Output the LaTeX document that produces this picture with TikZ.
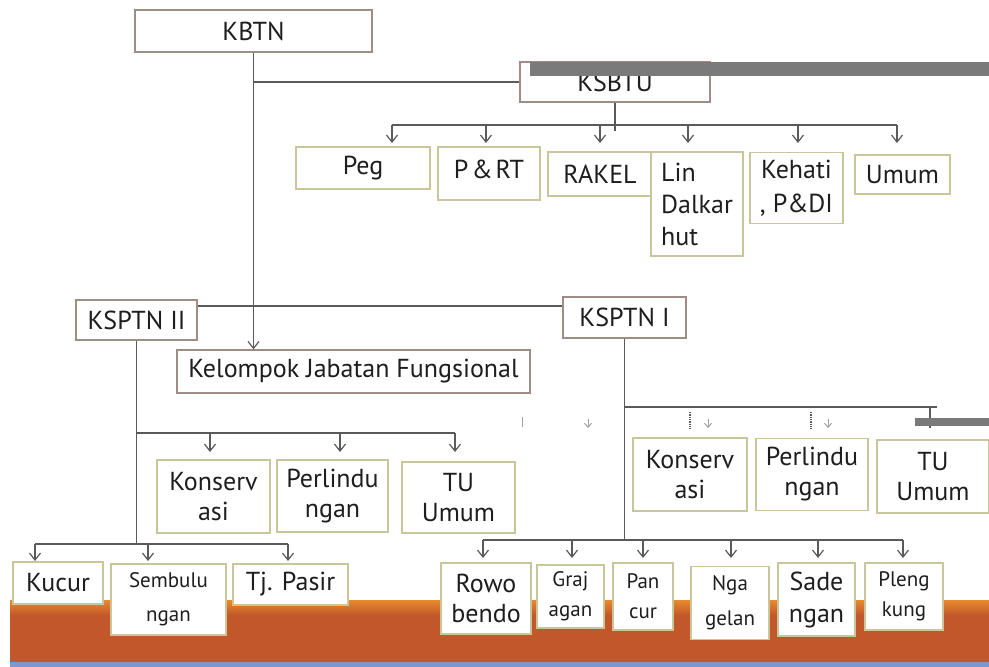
\documentclass[tikz,border=0pt]{standalone}
\usepackage{fontspec}
\setmainfont{PT Sans}
\usetikzlibrary{arrows.meta}
\definecolor{linec}{HTML}{5A5A5A}
\definecolor{mainb}{HTML}{A08C84}
\definecolor{subb}{HTML}{C8C69A}
\definecolor{orangeA}{HTML}{E88A2E}
\definecolor{orangeB}{HTML}{C2582A}
\definecolor{blueA}{HTML}{7A98CC}
\definecolor{barg}{HTML}{7A7A7A}
\definecolor{faint}{HTML}{A0A0A0}
\definecolor{txt}{HTML}{1E1E1E}
\begin{document}
\begin{tikzpicture}[x=1pt,y=-1pt,
  conn/.style={draw=linec, line width=1.4pt},
  arr/.style={conn, -{Straight Barb[length=7pt,width=11pt,line width=1.2pt]}},
  faintarr/.style={draw=faint, line width=1pt, -{Straight Barb[length=4pt,width=7pt]}},
  mainbox/.style={draw=mainb, line width=1.3pt, fill=white, text=txt, inner sep=0pt, align=center, font=\fontsize{26}{30}\selectfont},
  subbox/.style={draw=subb, line width=1.6pt, fill=white, text=txt, inner sep=0pt, align=center, font=\fontsize{26}{30}\selectfont},
  small/.style={font=\fontsize{21}{34}\selectfont},
]
\useasboundingbox (0,0) rectangle (989,667);
\fill[white] (0,0) rectangle (989,667);
% bottom band
\fill[orangeB] (10,600) rectangle (989,662);
\shade[top color=orangeA, bottom color=orangeB] (10,600) rectangle (989,615);
\fill[blueA] (10,662) rectangle (989,667);

% top level
\node[mainbox, minimum width=237pt, minimum height=42pt] (kbtn) at (253.5,31) {KBTN};
\node[mainbox, minimum width=190pt, minimum height=40pt] (ksbtu) at (615,82) {KSBTU};

% KSBTU children
\node[subbox, minimum width=134pt, minimum height=42pt] (peg) at (363,168) {Peg};
\node[subbox, minimum width=102pt, minimum height=53pt, text height=31pt, text depth=22pt] (prt) at (489,173.5) {P\kern3pt\&\kern3ptRT};
\node[subbox, minimum width=104pt, minimum height=44pt] (rakel) at (600,174) {RAKEL};
\node[subbox, minimum width=92pt, minimum height=104pt, align=left, font=\fontsize{26}{32}\selectfont] (lin) at (697,204) {Lin\\Dalkar\\hut};
\node[subbox, minimum width=93pt, minimum height=71pt, font=\fontsize{26}{34}\selectfont] (kehati) at (796.5,188) {Kehati\\, P\&DI};
\node[subbox, minimum width=95pt, minimum height=39pt] (umum) at (902.5,174.5) {Umum};

% KSPTN
\node[mainbox, minimum width=121pt, minimum height=40pt] (ksptn2) at (136.5,320) {KSPTN II};
\node[mainbox, minimum width=123pt, minimum height=41pt] (ksptn1) at (624.5,317.5) {KSPTN I};
\node[mainbox, minimum width=353pt, minimum height=43pt] (kjf) at (353.5,371.5) {Kelompok Jabatan Fungsional};

% left middle
\node[subbox, minimum width=113pt, minimum height=73pt] (konsL) at (213.5,496.5) {Konserv\\asi};
\node[subbox, minimum width=111pt, minimum height=72pt] (perlL) at (332.5,496) {Perlindu\\ngan};
\node[subbox, minimum width=113pt, minimum height=71pt] (tuL) at (458.5,497.5) {TU\\Umum};

% right middle
\node[subbox, minimum width=114pt, minimum height=73pt] (konsR) at (690,474.5) {Konserv\\asi};
\node[subbox, minimum width=112pt, minimum height=72pt] (perlR) at (812,474.5) {Perlindu\\ngan};
\node[subbox, minimum width=112pt, minimum height=73pt] (tuR) at (933,476.5) {TU\\Umum};

% bottom left
\node[subbox, minimum width=90pt, minimum height=42pt] (kucur) at (58,583) {Kucur};
\node[subbox, small, minimum width=115pt, minimum height=71pt] (semb) at (168.5,599.5) {Sembulu\\ngan};
\node[subbox, minimum width=115pt, minimum height=41pt] (tjp) at (290.5,584.5) {Tj. Pasir};

% bottom right
\node[subbox, minimum width=90pt, minimum height=71pt] (rowo) at (486,598.5) {Rowo\\bendo};
\node[subbox, font=\fontsize{21}{30}\selectfont, minimum width=67pt, minimum height=63pt] (graj) at (570.5,596.5) {Graj\\agan};
\node[subbox, font=\fontsize{21}{30}\selectfont, minimum width=60pt, minimum height=67pt] (pancur) at (643,596.5) {Pan\\cur};
\node[subbox, font=\fontsize{21}{35}\selectfont, minimum width=78pt, minimum height=73pt] (ngag) at (730,603) {Nga\\gelan};
\node[subbox, font=\fontsize{26}{32}\selectfont, minimum width=77pt, minimum height=73pt] (sade) at (816.5,599.5) {Sade\\ngan};
\node[subbox, font=\fontsize{21}{30}\selectfont, minimum width=78pt, minimum height=67pt] (pleng) at (904,596.5) {Pleng\\kung};

% connectors: KBTN
\draw[arr] (kbtn.south) -- (kbtn.south |- kjf.north);
\draw[conn] (kbtn.south |- ksbtu.west) -- (ksbtu.west);
% KSBTU bus
\draw[conn] (ksbtu.south) -- (ksbtu.south |- 0,131);
\draw[conn] (392,125) -- (897,125);
\foreach \x in {392,486,600,688,798,897} \draw[arr] (\x,125) -- (\x,143);

% KSPTN link
\draw[conn] (ksptn2.east |- 0,306) -- (ksptn1.west |- 0,306);

% KSPTN II tree
\draw[conn] (ksptn2.south) -- (ksptn2.south |- 0,544);
\draw[conn] (ksptn2.south |- 0,433) -- (455,433);
\foreach \x in {210,340,455} \draw[arr] (\x,433) -- (\x,452);
\draw[conn] (35,544) -- (288,544);
\foreach \x in {35,148,288} \draw[arr] (\x,544) -- (\x,561);

% KSPTN I tree
\draw[conn] (ksptn1.south) -- (ksptn1.south |- 0,540);
\draw[conn] (ksptn1.south |- 0,407) -- (937,407);
\draw[conn] (930,407) -- (930,428);
\draw[draw=linec, densely dotted, line width=1.3pt] (690,412) -- (690,429);
\draw[draw=linec, densely dotted, line width=1.3pt] (811,412) -- (811,429);
\draw[faintarr] (708,419) -- (708,428);
\draw[faintarr] (828,419) -- (828,428);
\draw[draw=faint, line width=1pt] (522,417) -- (522,427);
\draw[faintarr] (588,419) -- (588,428);
\draw[conn] (483,540) -- (903,540);
\foreach \x in {483,572,643,731,818,903} \draw[arr] (\x,540) -- (\x,558);

% grey bars
\fill[barg] (530,62) rectangle (989,76);
\fill[barg] (915,418) rectangle (989,426);
\end{tikzpicture}
\end{document}
